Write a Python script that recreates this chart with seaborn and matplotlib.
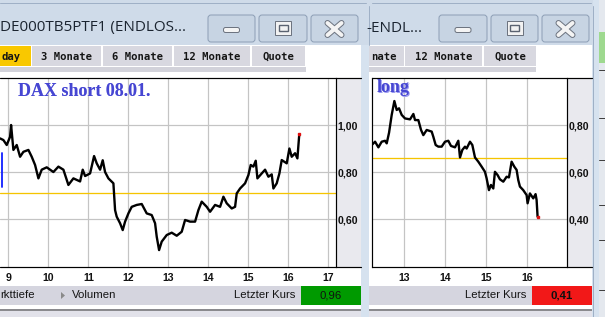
import numpy as np
import pandas as pd
import matplotlib
matplotlib.use("Agg")
import matplotlib.pyplot as plt
import seaborn as sns
from matplotlib.patches import Rectangle, FancyBboxPatch, Polygon
from matplotlib.ticker import FuncFormatter

# ---------------- data ----------------
short_day = [8.792, 8.875, 8.958, 9.042, 9.067, 9.125, 9.208, 9.292, 9.375, 9.5, 9.583, 9.667,
             9.75, 9.833, 9.958, 10.125, 10.25, 10.375, 10.5, 10.625, 10.792, 10.858, 10.917,
             11.042, 11.142, 11.208, 11.292, 11.358, 11.417, 11.5, 11.625, 11.667, 11.708,
             11.792, 11.858, 11.917, 12.0, 12.083, 12.208, 12.333, 12.458, 12.583, 12.667,
             12.708, 12.767, 12.833, 12.958, 13.083, 13.208, 13.333, 13.417, 13.542, 13.667,
             13.75, 13.833, 13.958, 14.042, 14.167, 14.292, 14.375, 14.458, 14.583, 14.667,
             14.708, 14.792, 14.917, 15.0, 15.058, 15.125, 15.183, 15.225, 15.333, 15.417,
             15.5, 15.583, 15.625, 15.708, 15.775, 15.833, 15.958, 16.025, 16.083, 16.167,
             16.225, 16.267, 16.275]
short_val = [0.943, 0.936, 0.915, 0.95, 1.00, 0.894, 0.915, 0.865, 0.886, 0.894, 0.865, 0.83,
             0.773, 0.81, 0.82, 0.80, 0.823, 0.81, 0.745, 0.773, 0.76, 0.81, 0.783,
             0.794, 0.868, 0.837, 0.81, 0.85, 0.80, 0.773, 0.752, 0.638, 0.61,
             0.582, 0.553, 0.589, 0.624, 0.652, 0.66, 0.664, 0.624, 0.617, 0.582,
             0.525, 0.468, 0.504, 0.532, 0.542, 0.529, 0.546, 0.596, 0.589, 0.589,
             0.638, 0.674, 0.652, 0.631, 0.66, 0.652, 0.695, 0.667, 0.645, 0.652,
             0.709, 0.73, 0.752, 0.787, 0.83, 0.823, 0.848, 0.773, 0.794, 0.81,
             0.78, 0.79, 0.73, 0.752, 0.794, 0.851, 0.837, 0.90, 0.865, 0.88,
             0.858, 0.95, 0.96]
short_ref_level = 0.71
short_blue_day = [8.85, 8.85]
short_blue_val = [0.881, 0.736]

long_day = [12.203, 12.285, 12.366, 12.447, 12.528, 12.569, 12.626, 12.691, 12.756, 12.813,
            12.870, 12.935, 13.016, 13.138, 13.220, 13.260, 13.341, 13.407, 13.463, 13.545,
            13.667, 13.707, 13.764, 13.829, 13.911, 13.992, 14.073, 14.138, 14.236, 14.317,
            14.358, 14.415, 14.480, 14.520, 14.602, 14.659, 14.724, 14.805, 14.886, 14.967,
            15.008, 15.065, 15.114, 15.171, 15.211, 15.276, 15.333, 15.415, 15.496, 15.553,
            15.618, 15.683, 15.740, 15.780, 15.821, 15.902, 15.984, 16.008, 16.065, 16.146,
            16.203, 16.228, 16.252]
long_val = [0.715, 0.729, 0.705, 0.729, 0.733, 0.722, 0.767, 0.843, 0.902, 0.864,
            0.871, 0.843, 0.828, 0.824, 0.847, 0.821, 0.821, 0.779, 0.757, 0.779,
            0.772, 0.75, 0.715, 0.708, 0.708, 0.729, 0.733, 0.711, 0.705, 0.733,
            0.662, 0.694, 0.708, 0.70, 0.729, 0.715, 0.662, 0.644, 0.623, 0.601,
            0.573, 0.523, 0.545, 0.53, 0.601, 0.587, 0.569, 0.559, 0.58, 0.577,
            0.644, 0.623, 0.609, 0.566, 0.538, 0.523, 0.502, 0.467, 0.509, 0.488,
            0.506, 0.481, 0.41]
long_ref_level = 0.658

short_xticks = [9, 10, 11, 12, 13, 14, 15, 16, 17]
short_yticks = [0.60, 0.80, 1.00]
long_xticks = [13, 14, 15, 16]
long_yticks = [0.40, 0.60, 0.80]

title_left = "DE000TB5PTF1 (ENDLOS..."
title_right = "-ENDL..."
tabs_left = ["day", "3 Monate", "6 Monate", "12 Monate", "Quote"]
tabs_right = ["nate", "12 Monate", "Quote"]
label_short = "DAX short 08.01."
label_long = "long"
last_short = "0,96"
last_long = "0,41"

# ---------------- figure ----------------
W, H = 605, 317
sns.set_theme(style="white")
plt.rcParams['font.family'] = ['DejaVu Sans']

fig = plt.figure(figsize=(W / 100, H / 100), dpi=100)
fig.patch.set_facecolor('white')

def pix_axes(z):
    a = fig.add_axes([0, 0, 1, 1], zorder=z)
    a.set_xlim(0, W)
    a.set_ylim(H, 0)
    a.axis('off')
    a.patch.set_alpha(0)
    return a

bg = pix_axes(-5)
fg = pix_axes(5)

def rect(a, x, y, w, h, color, **kw):
    a.add_patch(Rectangle((x, y), w, h, facecolor=color, edgecolor='none', **kw))

PX = 0.72  # 1 pixel in points

# window frames / title bars
rect(bg, 0, 0, W, H, '#d6e2ef')
rect(bg, 0, 0, 368, 45, '#cfdbe9')
rect(bg, 368, 0, 225, 45, '#cfdbe9')
bg.plot([0, 366], [3, 3], color='#9fb0c6', lw=PX)
bg.plot([372, 591], [3, 3], color='#9fb0c6', lw=PX)
bg.plot([369, 369], [6, 45], color='#9fb0c6', lw=PX)
bg.plot([593, 593], [6, 317], color='#9fb0c6', lw=PX)
# neighbour window at far right
rect(bg, 599, 0, 6, H, '#e4e8ee')
rect(bg, 599, 32, 6, 31, '#9ed98f')
for yy in [70, 118, 160, 205, 240, 290]:
    bg.plot([599, 605], [yy, yy], color='#404040', lw=PX)

# content areas
rect(bg, 0, 45, 361, 260, 'white')
rect(bg, 369, 45, 223, 260, 'white')
# tabs
tab_x_left = [(0, 31), (32, 101), (103, 172), (174, 250), (252, 305)]
for (x0, x1), lab in zip(tab_x_left, tabs_left):
    col = '#f9c800' if lab == 'day' else '#d8d8e0'
    rect(bg, x0, 46, x1 - x0, 20, col)
    if lab == 'day':
        fg.text(1, 56.5, lab, ha='left', va='center', fontsize=7.6,
                family='DejaVu Sans Mono', fontweight='bold', color='#151515')
    else:
        fg.text((x0 + x1) / 2, 56.5, lab, ha='center', va='center', fontsize=7.6,
                family='DejaVu Sans Mono', fontweight='bold', color='#151515')
rect(bg, 0, 67, 306, 5, '#d2d2da')

tab_x_right = [(369, 404), (405, 482), (484, 536)]
for (x0, x1), lab in zip(tab_x_right, tabs_right):
    rect(bg, x0, 46, x1 - x0, 20, '#d8d8e0')
    if lab == 'nate':
        fg.text(371, 56.5, lab, ha='left', va='center', fontsize=7.6,
                family='DejaVu Sans Mono', fontweight='bold', color='#151515')
    else:
        fg.text((x0 + x1) / 2, 56.5, lab, ha='center', va='center', fontsize=7.6,
                family='DejaVu Sans Mono', fontweight='bold', color='#151515')
rect(bg, 369, 67, 167, 5, '#d2d2da')

# titles
fg.text(0.5, 28, title_left, ha='left', va='center', fontsize=11.0,
        family='Open Sans', color='#1b2430')
fg.text(366, 28, title_right, ha='left', va='center', fontsize=11.0,
        family='Open Sans', color='#1b2430')

# window buttons
def button(x0, x1, kind):
    fg.add_patch(FancyBboxPatch((x0, 15), x1 - x0, 27,
                                boxstyle="round,pad=0,rounding_size=3",
                                facecolor='#c7d4e3', edgecolor='#8e9fb6', lw=PX))
    cx = (x0 + x1) / 2
    if kind == 'min':
        fg.add_patch(FancyBboxPatch((cx - 8, 27.5), 16, 5,
                                    boxstyle="round,pad=0,rounding_size=2",
                                    facecolor='#f4f4f4', edgecolor='#6d7480', lw=PX))
    elif kind == 'max':
        fg.add_patch(Rectangle((cx - 8, 21), 16, 14, facecolor='#f2f2f2',
                               edgecolor='#6d7480', lw=PX))
        fg.add_patch(Rectangle((cx - 4.5, 24.5), 9, 6.5, facecolor='#f2f2f2',
                               edgecolor='#5a6270', lw=1.4 * PX))
    else:
        for dx in (1, -1):
            fg.plot([cx - 7 * dx, cx + 7 * dx], [23, 35], color='#6d7480', lw=6.0 * PX,
                    solid_capstyle='round')
        for dx in (1, -1):
            fg.plot([cx - 7 * dx, cx + 7 * dx], [23, 35], color='#f4f4f4', lw=4.0 * PX,
                    solid_capstyle='round')

button(208, 255, 'min')
button(259, 307, 'max')
button(311, 358, 'close')
button(439, 487, 'min')
button(491, 538, 'max')
button(542, 589, 'close')

# label columns (grey) and frame lines
rect(bg, 337, 78, 24, 189, '#e9e9ee')
rect(bg, 568, 78, 24, 189, '#e9e9ee')
for x0, x1 in [(0, 361), (372, 592)]:
    fg.plot([x0, x1], [78, 78], color='black', lw=1.2 * PX)
    fg.plot([x0, x1], [267, 267], color='black', lw=1.2 * PX)

# bottom bars
rect(bg, 0, 286, 361, 19, '#d5d5df')
rect(bg, 301, 286, 60, 19, '#009a00')
rect(bg, 372, 286, 160, 19, '#d5d5df')
rect(bg, 369, 286, 3, 19, '#d5d5df')
rect(bg, 532, 286, 60, 19, '#f21818')
rect(bg, 0, 305, 361, 4, 'white')
rect(bg, 369, 305, 223, 4, 'white')
rect(bg, 0, 309, 361, 2, '#8a8a8e')
rect(bg, 369, 309, 223, 2, '#8a8a8e')
rect(bg, 0, 311, 361, 6, '#e2e2ea')
rect(bg, 369, 311, 223, 6, '#e2e2ea')

fg.text(0.5, 295.5, "rkttiefe", ha='left', va='center', fontsize=8.2,
        family='Liberation Sans', color='#151515')
fg.add_patch(Polygon([[61, 292], [61, 299], [65, 295.5]], closed=True,
                     facecolor='#8a8a8a', edgecolor='none'))
fg.text(72, 295.5, "Volumen", ha='left', va='center', fontsize=8.2,
        family='Liberation Sans', color='#151515')
fg.text(295, 295.5, "Letzter Kurs", ha='right', va='center', fontsize=8.2,
        family='Liberation Sans', color='#151515')
fg.text(331, 295.5, last_short, ha='center', va='center', fontsize=8.2,
        family='Liberation Sans', color='#101010')
fg.text(526, 295.5, "Letzter Kurs", ha='right', va='center', fontsize=8.2,
        family='Liberation Sans', color='#151515')
fg.text(562, 295.5, last_long, ha='center', va='center', fontsize=8.2,
        family='Liberation Sans', fontweight='bold', color='#101010')

# ---------------- charts ----------------
def fmt(v, pos):
    return f"{v:.2f}".replace('.', ',')

def setup(ax, xlim, ylim, xt, yt, left_spine):
    ax.set_xlim(*xlim)
    ax.set_ylim(*ylim)
    ax.set_facecolor('white')
    ax.set_xticks(xt)
    ax.set_yticks(yt)
    ax.yaxis.tick_right()
    ax.yaxis.set_major_formatter(FuncFormatter(fmt))
    ax.grid(True, color='#c4c4c4', lw=1.2 * PX)
    ax.set_axisbelow(True)
    ax.tick_params(axis='both', length=0, labelsize=7.6, colors='#111111')
    ax.tick_params(axis='x', pad=4.2)
    ax.tick_params(axis='y', pad=1.2)
    for lab in ax.get_xticklabels() + ax.get_yticklabels():
        lab.set_fontweight('bold')
        lab.set_family('Liberation Sans')
    for s in ['top', 'bottom']:
        ax.spines[s].set_visible(False)
    ax.spines['right'].set_color('black')
    ax.spines['right'].set_linewidth(1.2 * PX)
    ax.spines['left'].set_visible(left_spine)
    ax.spines['left'].set_color('black')
    ax.spines['left'].set_linewidth(1.2 * PX)
    ax.set_xlabel('')
    ax.set_ylabel('')

ax1 = fig.add_axes([0, 1 - 267 / H, 336 / W, 189 / H], zorder=0)
df1 = pd.DataFrame({'day': short_day, 'val': short_val})
sns.lineplot(data=df1, x='day', y='val', ax=ax1, color='black', lw=1.7,
             estimator=None, sort=False)
sns.lineplot(x=short_blue_day, y=short_blue_val, ax=ax1, color='#1020ff', lw=1.3,
             estimator=None, sort=False)
ax1.axhline(short_ref_level, color='#f5c400', lw=1.3 * PX, zorder=1.5)
ax1.plot(short_day[-1:], short_val[-1:], marker='s', ms=2, color='#e01010', lw=0)
setup(ax1, (8.79, 17.19), (0.396, 1.20), short_xticks, short_yticks, False)

ax2 = fig.add_axes([372 / W, 1 - 267 / H, 195 / W, 189 / H], zorder=0)
df2 = pd.DataFrame({'day': long_day, 'val': long_val})
sns.lineplot(data=df2, x='day', y='val', ax=ax2, color='black', lw=1.7,
             estimator=None, sort=False)
ax2.axhline(long_ref_level, color='#f5c400', lw=1.3 * PX, zorder=1.5)
ax2.plot(long_day[-1:], long_val[-1:], marker='s', ms=2, color='#e01010', lw=0)
setup(ax2, (12.21, 16.97), (0.196, 1.00), long_xticks, long_yticks, True)

# chart labels
fg.text(18.5, 91.5, label_short, ha='left', va='center', fontsize=13,
        family='Liberation Serif', fontweight='bold', color='#9a9af0')
fg.text(18, 91, label_short, ha='left', va='center', fontsize=13,
        family='Liberation Serif', fontweight='bold', color='#4646d2')
fg.text(377.5, 88.5, label_long, ha='left', va='center', fontsize=13,
        family='Liberation Serif', fontweight='bold', color='#9a9af0')
fg.text(377, 88, label_long, ha='left', va='center', fontsize=13,
        family='Liberation Serif', fontweight='bold', color='#4646d2')

fig.savefig('out.png', dpi=100)
